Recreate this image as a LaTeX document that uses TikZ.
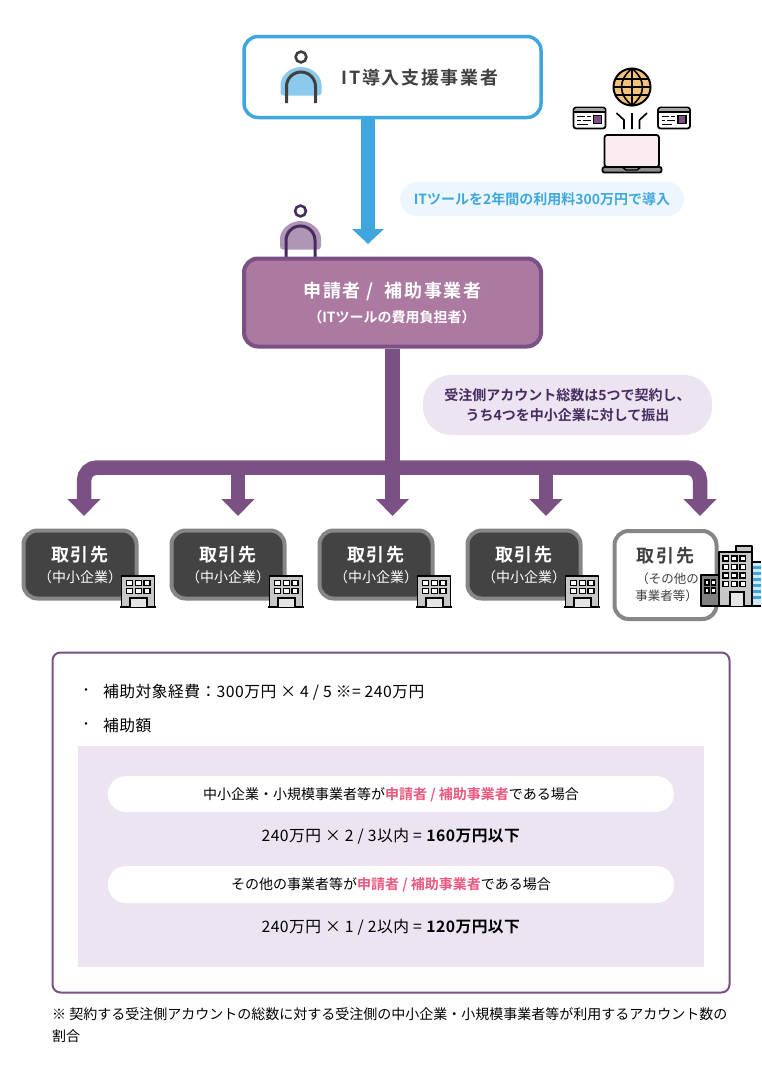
\documentclass[tikz,border=0pt]{standalone}
\usepackage{fontspec}
\setmainfont{Noto Sans CJK JP}[BoldFont={Noto Sans CJK JP Bold}]
\newfontfamily\widejp{Noto Sans CJK JP}[BoldFont={Noto Sans CJK JP Bold},LetterSpace=9]
\newfontfamily\airyjp{Noto Sans CJK JP}[BoldFont={Noto Sans CJK JP Bold},LetterSpace=3]
\usetikzlibrary{positioning}
\usetikzlibrary{arrows.meta}
\definecolor{skyblue}{HTML}{3FA7DD}
\definecolor{plum}{HTML}{AC7AA0}
\definecolor{grape}{HTML}{7A5085}
\definecolor{lilac}{HTML}{ECE5F1}
\definecolor{inkpurple}{HTML}{452B60}
\definecolor{slate}{HTML}{434343}
\definecolor{ashgrey}{HTML}{868686}
\definecolor{hotpink}{HTML}{EA5A80}
\definecolor{globetan}{HTML}{F0C27B}
\newcommand{\fsize}[1]{\fontsize{#1}{#1}\selectfont}
\newcommand{\hot}[1]{\textcolor{hotpink}{\textbf{#1}}}
\tikzset{
    mainbox/.style={rounded corners=14pt, minimum width=297pt, inner sep=0pt, align=center},
    client/.style={rounded corners=14pt, draw=ashgrey, line width=4pt, fill=slate, minimum width=113pt, minimum height=68pt, inner sep=0pt},
    pill/.style={rounded corners=17pt, inner sep=0pt, align=center},
    blueflow/.style={skyblue, line width=14pt, -{Triangle[width=31pt,length=15pt]}},
    treeflow/.style={grape, line width=14.5pt, -{Triangle[width=32pt,length=17pt]}},
    clienttext/.style={text=white, align=center},
    calc/.style={text=black, anchor=center, font=\airyjp\fsize{15.75}},
    blackline/.style={black, line width=1.8pt, line join=round}
}
% person icon: x, y of the head, halo colour, line colour, foot of the arch
\newcommand{\persondraw}[5]{
    \fill[#3, rounded corners=3pt] (#1-20.5,#2+30.5) arc[start angle=180, end angle=360, radius=20.5] -- (#1+20.5,#2+38.5) -- (#1-20.5,#2+38.5) -- cycle;
    \draw[#4, line width=2.6pt] (#1,#2) circle[radius=5.4];
    \draw[#4, line width=3pt] (#1-14.5,#5) -- (#1-14.5,#2+29.5) arc[start angle=180, end angle=360, radius=14.5] -- (#1+14.5,#5);
}
% small office block: left, top
\newcommand{\officedraw}[2]{
    \draw[blackline, fill=black!22] (#1+1,#2+32) -- (#1+1,#2+1) -- (#1+34,#2+1) -- (#1+34,#2+32);
    \draw[black, line width=2pt] (#1-0.5,#2+31.5) -- (#1+35.5,#2+31.5);
    \foreach \col in {0,1,2}{
        \foreach \row in {0,1}{
            \draw[black, line width=1.5pt, fill=white] (#1+6+\col*8.8,#2+5.5+\row*8) rectangle +(6,5);
        }
    }
    \draw[black, line width=1.6pt, fill=black!10] (#1+9.5,#2+31.5) -- (#1+9.5,#2+23) -- (#1+26.5,#2+23) -- (#1+26.5,#2+31.5);
}
% browser window icon: left, top
\newcommand{\windowdraw}[2]{
    \draw[blackline, fill=white, rounded corners=2.5pt] (#1,#2) rectangle (#1+32,#2+21);
    \fill[black!35, rounded corners=1pt] (#1+1,#2+1) rectangle (#1+31,#2+4);
    \draw[black, line width=1.5pt] (#1,#2+4.5) -- (#1+32,#2+4.5);
    \draw[black, line width=1.5pt] (#1+3.5,#2+9) -- (#1+11,#2+9) (#1+13,#2+9) -- (#1+17,#2+9) (#1+3.5,#2+13) -- (#1+7,#2+13) (#1+9,#2+13) -- (#1+17,#2+13) (#1+3.5,#2+17) -- (#1+14,#2+17);
    \draw[black, line width=1.3pt, fill=grape] (#1+20,#2+8) rectangle (#1+28,#2+16);
}
\begin{document}
\begin{tikzpicture}[x=1pt, y=-1pt]

    \useasboundingbox (0,0) rectangle (761,1082);

    \node[mainbox, draw=skyblue, line width=3.5pt, fill=white, minimum height=81pt] (vendor) at (392.5,77) {};
    \node[text=black!75, font=\widejp\bfseries\fsize{18}] (vendorname) at (420,78) {IT導入支援事業者};
    \persondraw{301}{57}{skyblue!60}{black!75}{103}

    \coordinate (vendorfoot) at (368,118);
    \coordinate (applicanthead) at (368,244);
    \draw[blueflow] (vendorfoot) -- (applicanthead);

    \node[pill, fill=skyblue!10, minimum width=284pt, minimum height=34pt, text=skyblue, font=\bfseries\fsize{14}] (toolnote) at (542,199) {ITツールを2年間の利用料300万円で導入};

    % web tool
    \draw[black, line width=2pt, fill=globetan] (632,87) circle[radius=18.5];
    \draw[black, line width=1.6pt] (632,68.5) .. controls (618,80) and (618,94) .. (632,105.5) .. controls (646,94) and (646,80) .. (632,68.5);
    \draw[black, line width=1.6pt] (632,68.5) -- (632,105.5) (616,79) -- (648,79) (616,95) -- (648,95) (613.5,87) -- (650.5,87);
    \windowdraw{573.5}{107.5}
    \windowdraw{658}{107.5}
    \draw[black, line width=1.6pt] (616.5,113) -- (624,120) -- (624,129) (632,113) -- (632,129) (647,113) -- (639.5,120) -- (639.5,129);
    \draw[blackline, fill=purple!8, rounded corners=2.5pt] (604.5,167) -- (604.5,135) -- (659,135) -- (659,167) -- cycle;
    \draw[blackline, fill=black!45, rounded corners=2pt] (602.5,167) -- (661.5,167) -- (661.5,172.5) -- (602.5,172.5) -- cycle;
    \draw[black, line width=1.4pt] (622,167) -- (626,170) -- (637,170) -- (641,167);

    \persondraw{300.5}{211}{grape!60}{inkpurple}{258}
    \node[mainbox, draw=grape, line width=4pt, fill=plum, minimum height=88pt] (applicant) at (392.5,302.5) {};
    \node[text=white, font=\widejp\bfseries\fsize{18}] (applicantname) at (392.5,291) {申請者 /\ \ 補助事業者};
    \node[text=white, font=\bfseries\fsize{14}] (applicantsub) at (392,317) {（ITツールの費用負担者）};

    \coordinate (junction) at (392.5,467.5);
    \coordinate (in1) at (84,516);
    \coordinate (in2) at (238,516);
    \coordinate (in3) at (392.5,516);
    \coordinate (in4) at (546,516);
    \coordinate (in5) at (700,516);
    \draw[grape, line width=14.5pt] (applicant.south) -- (junction);
    \draw[treeflow, rounded corners=13pt, {Triangle[width=32pt,length=17pt]}-{Triangle[width=32pt,length=17pt]}] (in1) |- (junction) -| (in5);
    \foreach \i in {2,3,4}{
        \draw[treeflow] (junction -| in\i) -- (in\i);
    }

    \node[pill, rounded corners=28pt, fill=lilac, minimum width=289pt, minimum height=60pt, text=inkpurple, font=\bfseries\fsize{14}, align=center] (splitnote) at (567.5,405) {受注側アカウント総数は5つで契約し、\\[6pt]うち4つを中小企業に対して振出};

    % clients
    \foreach \name/\cx in {clienta/80,clientb/228,clientc/376,clientd/524}{
        \node[client] (\name) at (\cx,564.5) {};
        \node[clienttext, font=\widejp\bfseries\fsize{18}] (\name title) at (\cx,555) {取引先};
        \node[clienttext, font=\fsize{14}] (\name sub) at (\cx,577) {（中小企業）};
        \officedraw{\cx+40.5}{575}
    }

    % other client and its tall buildings
    \node[client, fill=white, minimum width=102pt, minimum height=88pt] (cliente) at (665.5,575) {};
    \node[text=black!75, font=\widejp\bfseries\fsize{18}] (clientetitle) at (665.5,556) {取引先};
    \node[text=black!75, font=\fsize{12.5}, align=left] (clientesub) at (667,587) {\hspace{1pt}（その他の\\[5pt]事業者等）};
    \fill[skyblue!25] (752,562) rectangle (761,606);
    \foreach \stripe in {566,572,578,584,590,596}{
        \fill[skyblue] (752,\stripe) rectangle (761,\stripe+2.5);
    }
    \draw[black, line width=1.5pt] (752,562) -- (761,562) (752,606) -- (761,606);
    \draw[blackline, fill=black!50] (701,606) -- (701,575) -- (719,575) -- (719,606) -- cycle;
    \foreach \row in {0,1}{
        \draw[black, line width=1.1pt, fill=white] (705,580+\row*8) rectangle +(4,5);
        \draw[black, line width=1.1pt, fill=white] (711.5,580+\row*8) rectangle +(4,5);
    }
    \draw[blackline, fill=black!22] (736,552) -- (736,546) -- (752,546) -- (752,552);
    \draw[blackline, fill=black!22] (719,606) -- (719,552) -- (752,552) -- (752,606) -- cycle;
    \foreach \row in {0,1,2,3}{
        \foreach \col in {0,1,2}{
            \draw[black, line width=1.1pt, fill=white] (723+\col*8.5,556+\row*8.5) rectangle +(5.5,5);
        }
    }
    \draw[black, line width=1.4pt, fill=black!10] (730,606) -- (730,592) -- (744,592) -- (744,606);

    % result panel
    \node[draw=grape, line width=2pt, rounded corners=8pt, minimum width=677pt, minimum height=340pt, inner sep=0pt] (panel) at (391,822.5) {};
    \node[fill=lilac, minimum width=626pt, minimum height=221pt, inner sep=0pt] (shade) at (391,856.5) {};
    \node[pill, rounded corners=18pt, fill=white, minimum width=566pt, minimum height=36pt] (casea) at (391,794) {};
    \node[font=\fsize{14}] (caseatext) at (391,795) {中小企業・小規模事業者等が\hot{申請者 / 補助事業者}である場合};
    \node[pill, rounded corners=18pt, fill=white, minimum width=566pt, minimum height=37pt] (caseb) at (391,884.5) {};
    \node[font=\fsize{14}] (casebtext) at (391,885) {その他の事業者等が\hot{申請者 / 補助事業者}である場合};

    \node[font=\fsize{12}] (bulleta) at (86,692) {・};
    \node[font=\airyjp\fsize{15.75}, anchor=west, inner sep=0pt] (expense) at (103,692) {補助対象経費：300万円 × 4 / 5 ※= 240万円};
    \node[font=\fsize{12}] (bulletb) at (86,726) {・};
    \node[font=\airyjp\fsize{15.75}, anchor=west, inner sep=0pt] (amount) at (103,726) {補助額};

    \node[calc] (calca) at (391,836) {240万円 × 2 / 3以内 = \textbf{160万円以下}};
    \node[calc] (calcb) at (391,927) {240万円 × 1 / 2以内 = \textbf{120万円以下}};

    \node[font=\fsize{14}, anchor=north west, align=left, inner sep=0pt] (footnote) at (52,1007.5) {※ 契約する受注側アカウントの総数に対する受注側の中小企業・小規模事業者等が利用するアカウント数の\\[8pt]割合};

\end{tikzpicture}
\end{document}
